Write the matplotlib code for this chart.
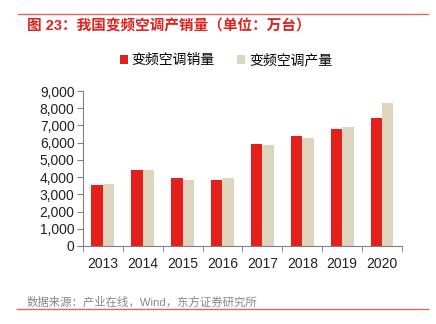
import numpy as np
import matplotlib
matplotlib.use('Agg')
import matplotlib.pyplot as plt
from matplotlib.ticker import FuncFormatter

plt.rcParams['font.family'] = ['Liberation Sans', 'Noto Sans CJK SC', 'DejaVu Sans']

# data (万台)
years = ['2013', '2014', '2015', '2016', '2017', '2018', '2019', '2020']
sales = [3525, 4400, 3930, 3850, 5905, 6390, 6775, 7450]
production = [3580, 4430, 3850, 3930, 5885, 6270, 6910, 8305]

red = '#E3201B'
beige = '#DFD5BE'
grey = '#808080'

fig = plt.figure(figsize=(4.36, 3.24), dpi=100)
ax = fig.add_axes([0.19, 0.241, 0.732, 0.478])

x = np.arange(len(years))
w = 0.285
ax.bar(x - w / 2, sales, w, color=red, label='变频空调销量')
ax.bar(x + w / 2, production, w, color=beige, label='变频空调产量')

ax.set_xlim(-0.5, len(years) - 0.5)
ax.set_ylim(0, 9000)
ax.set_yticks(np.arange(0, 9001, 1000))
ax.yaxis.set_major_formatter(FuncFormatter(lambda v, p: f'{int(v):,}'))
ax.set_xticks(x)
ax.set_xticklabels(years)
ax.set_xticks(np.arange(-0.5, len(years), 1), minor=True)
ax.tick_params(axis='x', which='major', length=0, pad=8, labelsize=10, colors='#222222')
ax.tick_params(axis='x', which='minor', length=4, direction='out', color=grey)
ax.tick_params(axis='y', length=4, direction='out', color=grey, labelsize=10, labelcolor='#222222', pad=2)

for s in ['top', 'right']:
    ax.spines[s].set_visible(False)
for s in ['left', 'bottom']:
    ax.spines[s].set_color(grey)
    ax.spines[s].set_linewidth(0.8)

ax.legend(loc='center', bbox_to_anchor=(226 / 436, 1.0 - 60 / 324), bbox_transform=fig.transFigure,
          ncol=2, frameon=False, fontsize=10, handlelength=0.6, handleheight=0.6,
          handletextpad=0.25, columnspacing=1.6)

# title and source
fig.add_artist(plt.Line2D([18 / 436, 428 / 436], [1 - 14 / 324, 1 - 14 / 324], color='#E8625E', lw=1))
fig.text(27 / 436, 1 - 26 / 324, '图 23：我国变频空调产销量（单位：万台）', color=red,
         fontsize=10.5, fontweight='bold', va='center', ha='left')
fig.text(27 / 436, 1 - 302 / 324, '数据来源：产业在线，Wind，东方证券研究所', color='#888888',
         fontsize=8.2, va='center', ha='left')
fig.add_artist(plt.Line2D([17 / 436, 428 / 436], [1 - 309 / 324, 1 - 309 / 324], color='#E8625E', lw=1))

fig.savefig('out.png', dpi=100)
